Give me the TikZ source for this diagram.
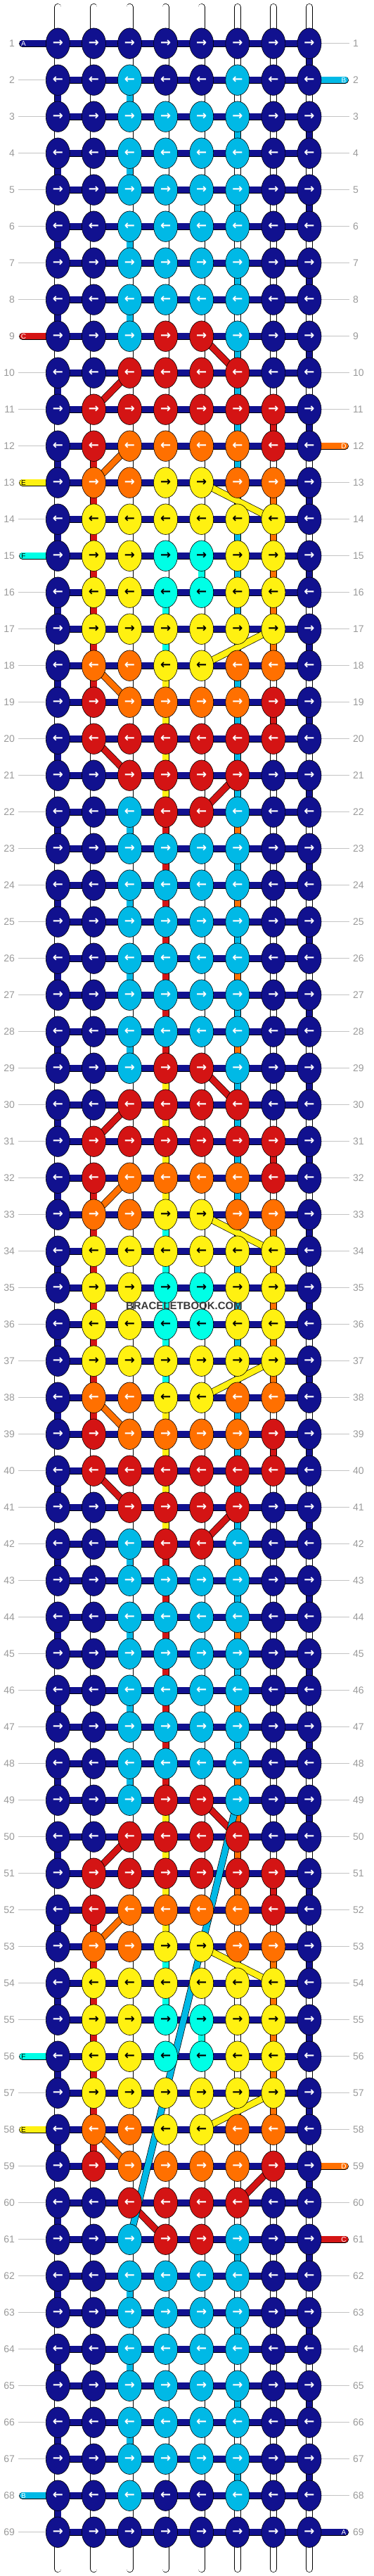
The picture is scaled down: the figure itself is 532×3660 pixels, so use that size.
\documentclass[tikz,border=0pt]{standalone}
\usepackage{fontspec}
\setmainfont{Liberation Sans}
\newfontfamily\arrowfont{DejaVu Sans}
\usetikzlibrary{positioning,shapes.geometric}

\pgfdeclarelayer{strands}
\pgfsetlayers{strands,main}

\definecolor{thN}{HTML}{11118F}
\definecolor{thC}{HTML}{00B9E6}
\definecolor{thR}{HTML}{D41414}
\definecolor{thO}{HTML}{FF7000}
\definecolor{thY}{HTML}{FFF111}
\definecolor{thT}{HTML}{00FFE6}
\definecolor{thW}{HTML}{FFFFFF}
\definecolor{rulegray}{HTML}{C4C4C4}
\definecolor{numgray}{HTML}{9A9A9A}

\newcommand\knotfont{\arrowfont\bfseries\fontsize{18bp}{18bp}\selectfont}

\tikzset{
  knot/.style={ellipse, draw=black, line width=0.6bp, minimum width=34bp,
    minimum height=43.5bp, inner sep=0pt, font=\knotfont},
  kN/.style={knot, fill=thN, text=white},
  kC/.style={knot, fill=thC, text=white},
  kR/.style={knot, fill=thR, text=white},
  kO/.style={knot, fill=thO, text=white},
  kY/.style={knot, fill=thY, text=black},
  kT/.style={knot, fill=thT, text=black},
  strand/.style={draw=black, line width=0.7bp, double distance=8.6bp},
  rowlab/.style={inner sep=0pt, outer xsep=5bp, text=numgray,
    font=\fontsize{14bp}{14bp}\selectfont},
  rowrule/.style={draw=rulegray, line width=0.8bp},
  tablab/.style={inner sep=0pt, font=\fontsize{10bp}{10bp}\selectfont},
  watermark/.style={inner sep=0pt, text=black!78, font=\bfseries\fontsize{15bp}{15bp}\selectfont}
}

\begin{document}
\begin{tikzpicture}[x=1bp,y=-1bp]
\useasboundingbox (0,0) rectangle (532,3660);

% knots, row by row
\foreach \r/\row in {
  1/{N,N,N,N,N,N,N,N}, 2/{N,N,C,N,N,C,N,N}, 3/{N,N,C,C,C,C,N,N},
  4/{N,N,C,C,C,C,N,N}, 5/{N,N,C,C,C,C,N,N}, 6/{N,N,C,C,C,C,N,N},
  7/{N,N,C,C,C,C,N,N}, 8/{N,N,C,C,C,C,N,N}, 9/{N,N,C,R,R,C,N,N},
  10/{N,N,R,R,R,R,N,N}, 11/{N,R,R,R,R,R,R,N}, 12/{N,R,O,O,O,O,R,N},
  13/{N,O,O,Y,Y,O,O,N}, 14/{N,Y,Y,Y,Y,Y,Y,N}, 15/{N,Y,Y,T,T,Y,Y,N},
  16/{N,Y,Y,T,T,Y,Y,N}, 17/{N,Y,Y,Y,Y,Y,Y,N}, 18/{N,O,O,Y,Y,O,O,N},
  19/{N,R,O,O,O,O,R,N}, 20/{N,R,R,R,R,R,R,N}, 21/{N,N,R,R,R,R,N,N},
  22/{N,N,C,R,R,C,N,N}, 23/{N,N,C,C,C,C,N,N}, 24/{N,N,C,C,C,C,N,N},
  25/{N,N,C,C,C,C,N,N}, 26/{N,N,C,C,C,C,N,N}, 27/{N,N,C,C,C,C,N,N},
  28/{N,N,C,C,C,C,N,N}, 29/{N,N,C,R,R,C,N,N}, 30/{N,N,R,R,R,R,N,N},
  31/{N,R,R,R,R,R,R,N}, 32/{N,R,O,O,O,O,R,N}, 33/{N,O,O,Y,Y,O,O,N},
  34/{N,Y,Y,Y,Y,Y,Y,N}, 35/{N,Y,Y,T,T,Y,Y,N}, 36/{N,Y,Y,T,T,Y,Y,N},
  37/{N,Y,Y,Y,Y,Y,Y,N}, 38/{N,O,O,Y,Y,O,O,N}, 39/{N,R,O,O,O,O,R,N},
  40/{N,R,R,R,R,R,R,N}, 41/{N,N,R,R,R,R,N,N}, 42/{N,N,C,R,R,C,N,N},
  43/{N,N,C,C,C,C,N,N}, 44/{N,N,C,C,C,C,N,N}, 45/{N,N,C,C,C,C,N,N},
  46/{N,N,C,C,C,C,N,N}, 47/{N,N,C,C,C,C,N,N}, 48/{N,N,C,C,C,C,N,N},
  49/{N,N,C,R,R,C,N,N}, 50/{N,N,R,R,R,R,N,N}, 51/{N,R,R,R,R,R,R,N},
  52/{N,R,O,O,O,O,R,N}, 53/{N,O,O,Y,Y,O,O,N}, 54/{N,Y,Y,Y,Y,Y,Y,N},
  55/{N,Y,Y,T,T,Y,Y,N}, 56/{N,Y,Y,T,T,Y,Y,N}, 57/{N,Y,Y,Y,Y,Y,Y,N},
  58/{N,O,O,Y,Y,O,O,N}, 59/{N,R,O,O,O,O,R,N}, 60/{N,N,R,R,R,R,N,N},
  61/{N,N,C,R,R,C,N,N}, 62/{N,N,C,C,C,C,N,N}, 63/{N,N,C,C,C,C,N,N},
  64/{N,N,C,C,C,C,N,N}, 65/{N,N,C,C,C,C,N,N}, 66/{N,N,C,C,C,C,N,N},
  67/{N,N,C,C,C,C,N,N}, 68/{N,N,C,N,N,C,N,N}, 69/{N,N,N,N,N,N,N,N}}
{
  \pgfmathsetmacro\yy{61.7+52*(\r-1)}
  \foreach \k [count=\c] in \row {
    \pgfmathsetmacro\xx{82.3+51.1*(\c-1)}
    \node[k\k] (k-\r-\c) at (\xx,\yy) {\ifodd\r\relax →\else ←\fi};
  }
  \node[rowlab, anchor=east] (ln-\r) at (26,\yy) {\r};
  \node[rowlab, anchor=west] (rn-\r) at (497,\yy) {\r};
}

% string ends above and below
\foreach \c in {1,...,8} {
  \pgfmathsetmacro\xx{82.3+51.1*(\c-1)}
  \coordinate (top-\c) at (\xx,10);
  \coordinate (bot-\c) at (\xx,3650);
}

% thread ends
\foreach \r/\s/\t/\tc in {1/N/A/white, 9/R/C/white, 13/Y/E/black,
    15/T/F/black, 56/T/F/black, 58/Y/E/black, 68/C/B/white} {
  \pgfmathsetmacro\yy{61.7+52*(\r-1)}
  \coordinate (endl-\r) at (32,\yy);
  \node[tablab, text=\tc] (tl-\r) at (33.5,\yy) {\t};
}
\foreach \r/\s/\t/\tc in {2/C/B/white, 12/O/D/white, 59/O/D/white,
    61/R/C/white, 69/N/A/white} {
  \pgfmathsetmacro\yy{61.7+52*(\r-1)}
  \coordinate (endr-\r) at (491,\yy);
  \node[tablab, text=\tc] (tr-\r) at (489,\yy) {\t};
}

\node[watermark] (wm) at (262,1855) {BRACELETBOOK.COM};

\begin{pgfonlayer}{strands}
  \fill[white] (0,0) rectangle (532,3660);

  % row rules
  \foreach \r in {2,...,8,10,11,12,14,16,17,...,55,57,59,60,...,67,69}
    \draw[rowrule] (ln-\r) -- (k-\r-1);
  \foreach \r in {1,3,4,...,11,13,14,...,58,60,62,63,...,68}
    \draw[rowrule] (k-\r-8) -- (rn-\r);

  % white vertical strings
  \foreach \c in {1,...,8}
    \draw[strand, double=white, line cap=round] (top-\c) -- (bot-\c);

  % navy turns at the edges
  \foreach \r in {1,...,68} {
    \pgfmathtruncatemacro\rn{\r+1}
    \ifodd\r\relax \def\c{8}\else \def\c{1}\fi
    \draw[strand, double=thN] (k-\r-\c.center) -- (k-\rn-\c.center);
  }

  % coloured vertical pieces
  \foreach \r/\c/\s in {2/3/C, 3/6/C, 4/3/C, 5/6/C, 6/3/C, 7/6/C, 8/3/C,
      9/6/C, 10/6/C, 11/6/C, 11/7/R, 12/2/R, 12/6/C, 13/2/R, 13/6/C, 13/7/O,
      14/2/R, 14/6/C, 14/7/O, 15/2/R, 15/5/T, 15/6/C, 15/7/O, 16/2/R, 16/4/T,
      16/6/C, 16/7/O, 17/2/R, 17/4/T, 17/6/C, 17/7/O, 18/2/R, 18/4/Y, 18/6/C,
      19/4/Y, 19/6/C, 19/7/R, 20/4/Y, 20/6/C, 21/4/Y, 21/6/C,
      22/3/C, 22/4/R, 22/6/O, 23/4/R, 23/6/C, 24/3/C, 24/4/R, 24/6/O,
      25/4/R, 25/6/C, 26/3/C, 26/4/R, 26/6/O, 27/4/R, 27/6/C, 28/3/C, 28/4/R,
      28/6/O, 29/4/Y, 29/6/C, 30/4/Y, 30/6/C, 31/4/Y, 31/6/C, 31/7/R,
      32/2/R, 32/4/Y, 32/6/C, 33/2/R, 33/4/T, 33/6/C, 33/7/O, 34/2/R, 34/4/T,
      34/6/C, 34/7/O, 35/2/R, 35/4/T, 35/6/C, 35/7/O, 36/2/R, 36/4/T, 36/6/C,
      36/7/O, 37/2/R, 37/4/T, 37/6/C, 37/7/O, 38/2/R, 38/4/Y, 38/6/C,
      39/4/Y, 39/6/C, 39/7/R, 40/4/Y, 40/6/C, 41/4/Y, 41/6/C,
      42/3/C, 42/4/R, 42/6/O, 43/4/R, 43/6/C, 44/3/C, 44/4/R, 44/6/O,
      45/4/R, 45/6/C, 46/3/C, 46/4/R, 46/6/O, 47/4/R, 47/6/C, 48/3/C, 48/4/R,
      48/6/O, 49/4/Y, 49/6/O, 50/4/Y, 50/6/O, 51/4/Y, 51/6/O, 51/7/R,
      52/2/R, 52/4/Y, 53/2/R, 53/4/T, 53/7/O, 54/2/R, 54/4/T, 54/7/O,
      55/2/R, 55/5/T, 55/7/O, 56/2/R, 56/7/O, 57/2/R, 57/7/O, 58/2/R,
      61/6/C, 62/3/C, 63/6/C, 64/3/C, 65/6/C, 66/3/C, 67/6/C} {
    \pgfmathtruncatemacro\rn{\r+1}
    \draw[strand, double=th\s] (k-\r-\c.center) -- (k-\rn-\c.center);
  }

  % rows
  \foreach \r in {1,...,69}
    \draw[strand, double=thN] (k-\r-1.center) -- (k-\r-8.center);

  % thread ends
  \foreach \r/\s in {1/N, 9/R, 13/Y, 15/T, 56/T, 58/Y, 68/C}
    \draw[strand, double=th\s, line cap=round] (endl-\r) -- (k-\r-1.center);
  \foreach \r/\s in {2/C, 12/O, 59/O, 61/R, 69/N}
    \draw[strand, double=th\s, line cap=round] (k-\r-8.center) -- (endr-\r);

  % crossing threads
  \foreach \a/\b/\s in {9-5/10-6/R, 10-3/11-2/R, 20-2/21-3/R, 21-6/22-5/R,
      29-5/30-6/R, 30-3/31-2/R, 40-2/41-3/R, 41-6/42-5/R, 49-5/50-6/R,
      50-3/51-2/R, 59-7/60-6/R, 60-3/61-4/R,
      12-3/13-2/O, 18-2/19-3/O, 32-3/33-2/O, 38-2/39-3/O, 52-3/53-2/O,
      58-2/59-3/O,
      13-5/14-7/Y, 17-7/18-5/Y, 33-5/34-7/Y, 37-7/38-5/Y, 53-5/54-7/Y,
      57-7/58-5/Y, 49-6/61-3/C}
    \draw[strand, double=th\s] (k-\a.center) -- (k-\b.center);
\end{pgfonlayer}

\end{tikzpicture}
\end{document}
